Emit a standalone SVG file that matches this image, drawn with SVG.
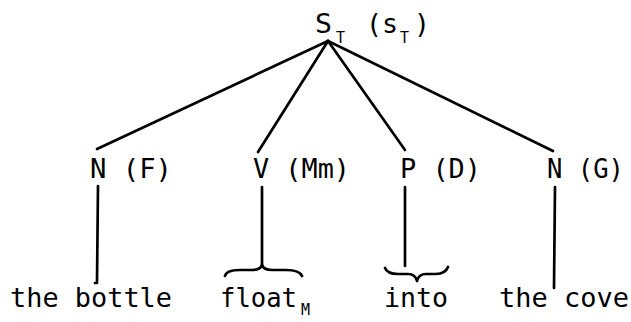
<svg xmlns="http://www.w3.org/2000/svg" width="631" height="322" viewBox="0 0 631 322">
<style>
  text { font-family: "DejaVu Sans Mono", "Liberation Mono", monospace; fill: #000; }
  .lbl { font-size: 27px; }
  .sub { font-size: 15px; }
  .edge { stroke: #000; stroke-width: 2.7; fill: none; stroke-linecap: round; stroke-linejoin: round; }
</style>
<rect width="631" height="322" fill="#fff"/>
<g id="connectors">
  <path class="edge" d="M328,41 L97,149"/>
  <path class="edge" d="M328,41 L258,152"/>
  <path class="edge" d="M328,41 L405,150"/>
  <path class="edge" d="M328,41 L553,151"/>
  <path class="edge" d="M98,186 L97,283 L95,283"/>
  <path class="edge" d="M262,187 L262,266"/>
  <path class="edge" d="M405,187 L405,266"/>
  <path class="edge" d="M555,187 L554,288"/>
  <path class="edge" d="M225,276 C226,271 232,270 240,270 L252,270 C258,270 261,268 262,265 C263,268 266,270 272,270 L286,270 C294,270 300,271 302,276"/>
  <path class="edge" d="M385,268 C387,273 392,274 398,274 L408,274 C413,274 416,277 417,281 C418,277 421,274 426,274 L436,274 C442,274 446,272 448,267"/>
</g>
<g id="root">
  <text class="lbl" x="315" y="33" textLength="17" lengthAdjust="spacingAndGlyphs">S</text>
  <text class="sub" x="336" y="43">T</text>
  <text class="lbl" x="366" y="33" textLength="32" lengthAdjust="spacingAndGlyphs">(s</text>
  <text class="sub" x="400" y="43">T</text>
  <text class="lbl" x="414" y="33" textLength="16" lengthAdjust="spacingAndGlyphs">)</text>
</g>
<g id="n1"><text class="lbl" x="90" y="178" textLength="82" lengthAdjust="spacingAndGlyphs">N (F)</text></g>
<g id="v"><text class="lbl" x="253" y="178" textLength="97" lengthAdjust="spacingAndGlyphs">V (Mm)</text></g>
<g id="p"><text class="lbl" x="400" y="178" textLength="81" lengthAdjust="spacingAndGlyphs">P (D)</text></g>
<g id="n2"><text class="lbl" x="547" y="178" textLength="77" lengthAdjust="spacingAndGlyphs">N (G)</text></g>
<g id="w1"><text class="lbl" x="10" y="307" textLength="162" lengthAdjust="spacingAndGlyphs">the bottle</text></g>
<g id="w2"><text class="lbl" x="220" y="307" textLength="77" lengthAdjust="spacingAndGlyphs">float</text><text class="sub" x="301" y="315">M</text></g>
<g id="w3"><text class="lbl" x="384" y="307" textLength="64" lengthAdjust="spacingAndGlyphs">into</text></g>
<g id="w4"><text class="lbl" x="499" y="307" textLength="130" lengthAdjust="spacingAndGlyphs">the cove</text></g>
</svg>
